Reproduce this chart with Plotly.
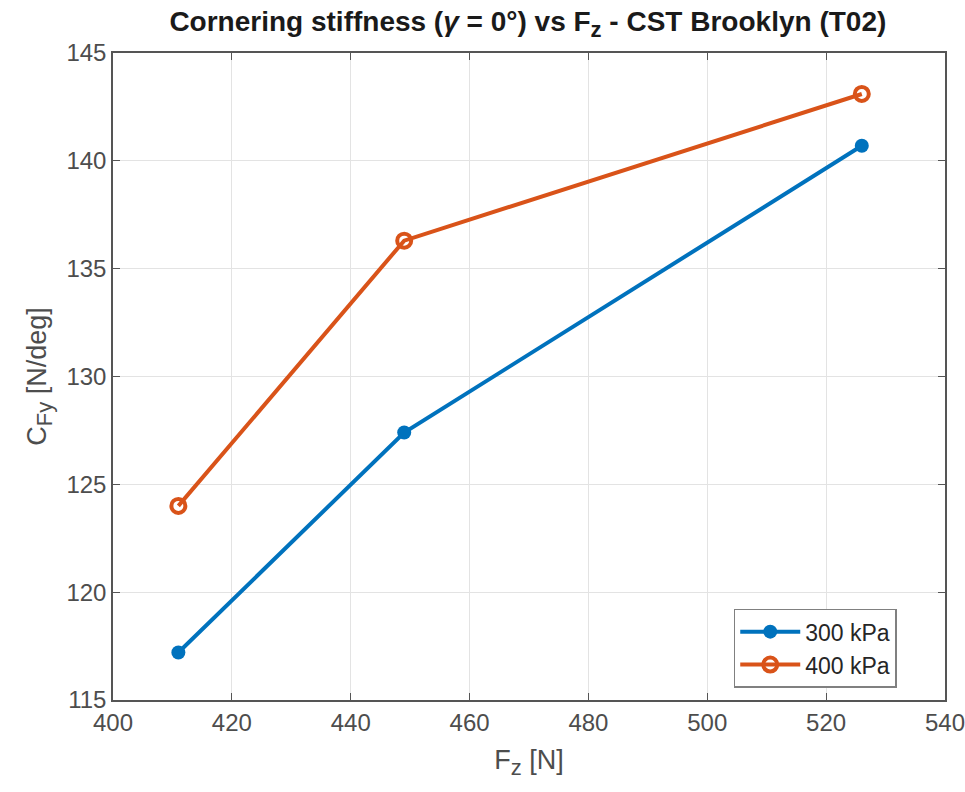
import plotly.graph_objects as go

fz = [411, 449, 526]
cfy_300 = [117.2, 127.4, 140.7]
cfy_400 = [124.0, 136.3, 143.1]
names = ["300 kPa", "400 kPa"]

FONT = "Liberation Sans, Arial"

fig = go.Figure()
fig.add_trace(go.Scatter(x=fz, y=cfy_300, name=names[0], mode="lines+markers",
                         line=dict(color="#0072BD", width=4),
                         marker=dict(symbol="circle", size=14, color="#0072BD")))
fig.add_trace(go.Scatter(x=fz, y=cfy_400, name=names[1], mode="lines+markers",
                         line=dict(color="#D95319", width=4),
                         marker=dict(symbol="circle-open", size=14, color="#D95319",
                                     line=dict(width=4, color="#D95319"))))

axis_common = dict(showline=True, linecolor="#555555", linewidth=1.5, mirror="ticks",
                   ticks="inside", ticklen=7, tickcolor="#555555",
                   showgrid=True, gridcolor="#e3e3e3", gridwidth=1, zeroline=False,
                   ticklabeloverflow="allow", automargin=False,
                   tickfont=dict(family=FONT, size=24, color="#4d4d4d"),
                   title_font=dict(family=FONT, size=27, color="#4d4d4d"))

fig.update_layout(
    width=965, height=792,
    paper_bgcolor="white", plot_bgcolor="white",
    margin=dict(l=113, r=20, t=53, b=92, autoexpand=False),
    title=dict(text="<b>Cornering stiffness (<i>γ</i> = 0°) vs F<sub><span style='font-size:22px'>z</span></sub> - CST Brooklyn (T02)</b>",
               x=0.547, xanchor="center", y=0.986, yanchor="top",
               font=dict(family=FONT, size=28, color="#1a1a1a")),
    xaxis=dict(range=[400, 540], dtick=20,
               title=dict(text="F<sub><span style='font-size:22px'>z</span></sub> [N]", standoff=16),
               **axis_common),
    yaxis=dict(range=[115, 145], dtick=5,
               title=dict(text="C<sub><span style='font-size:22px'>Fy</span></sub> [N/deg]", standoff=12),
               **axis_common),
    legend=dict(x=0.942, y=0.019, xanchor="right", yanchor="bottom",
                bordercolor="#808080", borderwidth=1.5, bgcolor="white",
                font=dict(family=FONT, size=23, color="#262626"),
                tracegroupgap=0, itemwidth=60),
    showlegend=True,
)

fig.write_html("out.html")
